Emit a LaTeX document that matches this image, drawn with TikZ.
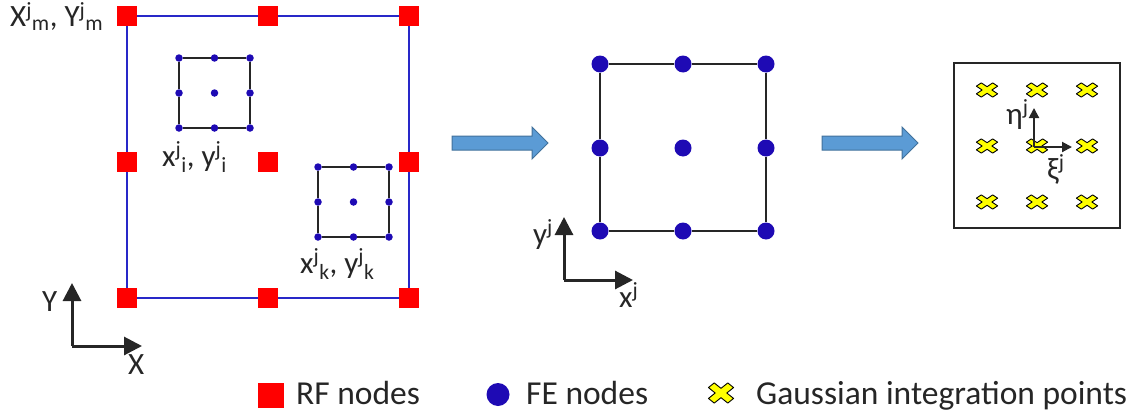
\documentclass[tikz,border=0pt]{standalone}
\usepackage{fontspec}
\setmainfont{Carlito}
\usetikzlibrary{arrows.meta,positioning}
\definecolor{rfred}{RGB}{255,0,0}
\definecolor{feblue}{RGB}{30,10,180}
\definecolor{rfline}{RGB}{40,40,200}
\definecolor{ink}{RGB}{38,38,38}
\definecolor{barfill}{RGB}{91,155,213}
\definecolor{barline}{RGB}{65,113,156}
\definecolor{gyellow}{RGB}{255,255,0}

\begin{document}
\begin{tikzpicture}[
  x=1pt, y=-1pt,
  font=\fontsize{31}{36}\selectfont, text=ink,
  rf/.style={fill=rfred, inner sep=0pt, minimum size=20pt},
  fe/.style={circle, fill=feblue, inner sep=0pt, minimum size=7.5pt},
  febig/.style={fe, minimum size=17pt},
  lbl/.style={anchor=base west, inner sep=0pt},
  leg/.style={lbl, font=\fontsize{33.5}{38}\selectfont},
  rfedge/.style={draw=rfline, line width=1.5pt},
  mesh/.style={draw=ink, line width=1.5pt},
  axis/.style={-{Triangle[length=18pt,width=18pt]}, draw=ink, line width=3pt},
  laxis/.style={-{Triangle[length=10pt,width=10pt]}, draw=ink, line width=2pt},
  bar/.style={fill=barfill, draw=barline, line width=1pt},
  gpt/.pic={\draw[fill=gyellow, draw=black, line width=0.9pt, line join=round, rotate=45]
    (2.7,2.7) -- (9,2.7) -- (9,-2.7) -- (2.7,-2.7) -- (2.7,-9) -- (-2.7,-9)
    -- (-2.7,-2.7) -- (-9,-2.7) -- (-9,2.7) -- (-2.7,2.7) -- (-2.7,9) -- (2.7,9) -- cycle;}
]
\useasboundingbox (0,0) rectangle (1140,415);

% random field grid
\foreach \x [count=\i] in {127,268,409}
  \foreach \y [count=\j] in {16,162,298}
    \node[rf] (rf\i\j) at (\x,\y) {};
\draw[rfedge] (rf11) -- (rf21) -- (rf31) -- (rf32) -- (rf33) -- (rf23) -- (rf13) -- (rf12) -- (rf11);

% two finite elements inside
\foreach \s/\ox/\oy in {i/179/58, k/318/167}{
  \foreach \a [count=\i] in {0,35.5,71}
    \foreach \b [count=\j] in {0,35,70}
      \node[fe] (\s\i\j) at (\ox+\a,\oy+\b) {};
  \draw[mesh] (\s11) -- (\s21) -- (\s31) -- (\s32) -- (\s33) -- (\s23) -- (\s13) -- (\s12) -- (\s11);
}
\node[lbl] (mlbl) at (10,27) {X\textsuperscript{j}\textsubscript{m}, Y\textsuperscript{j}\textsubscript{m}};
\node[lbl] (ilbl) at (162,166) {x\textsuperscript{j}\textsubscript{i}, y\textsuperscript{j}\textsubscript{i}};
\node[lbl] (klbl) at (300,273) {x\textsuperscript{j}\textsubscript{k}, y\textsuperscript{j}\textsubscript{k}};

% global axes
\coordinate (go) at (72,346);
\coordinate (gy) at (72,283);
\coordinate (gx) at (142,346);
\draw[axis] (go) -- (gy);
\draw[axis] (go) -- (gx);
\node[lbl] (gylbl) at (42,311) {Y};
\node[lbl] (gxlbl) at (128,374) {X};

% block arrows
\foreach \ax in {452,822}
  \draw[bar] (\ax,136) -- ++(80,0) -- ++(0,-9) -- ++(16,16) -- ++(-16,16) -- ++(0,-9) -- ++(-80,0) -- cycle;

% single element
\foreach \x [count=\i] in {600,683,766}
  \foreach \y [count=\j] in {64,148,231}
    \node[febig] (fe\i\j) at (\x,\y) {};
\draw[mesh] (fe11) -- (fe21) -- (fe31) -- (fe32) -- (fe33) -- (fe23) -- (fe13) -- (fe12) -- (fe11);
\coordinate (lo) at (564,280);
\coordinate (ly) at (564,217);
\coordinate (lx) at (633,280);
\draw[axis] (lo) -- (ly);
\draw[axis] (lo) -- (lx);
\node[lbl] (lylbl) at (533,244) {y\textsuperscript{j}};
\node[lbl] (lxlbl) at (619,307) {x\textsuperscript{j}};

% reference element with Gauss points
\node[draw=ink, line width=1.5pt, minimum width=166pt, minimum height=165pt, inner sep=0pt] (refel) at (1037,145.5) {};
\foreach \x [count=\i] in {987,1037,1087}
  \foreach \y [count=\j] in {90,146,202}
    \pic[xscale=1.28, yscale=0.86] (gp\i\j) at (\x,\y) {gpt};
\coordinate (no) at (1034,147);
\coordinate (ne) at (1034,108);
\coordinate (nx) at (1072,147);
\draw[laxis] (no) -- (ne);
\draw[laxis] (no) -- (nx);
\node[lbl] (etalbl) at (1006,124) {η\textsuperscript{j}};
\node[lbl] (xilbl) at (1047,179) {ξ\textsuperscript{j}};

% legend
\node[rf, minimum width=26pt, minimum height=25pt] (legrf) at (271,395.5) {};
\node[leg] (legrft) at (296,404) {RF nodes};
\node[fe, minimum size=23pt] (legfe) at (498,394.5) {};
\node[leg] (legfet) at (526,404) {FE nodes};
\pic[xscale=1.52, yscale=1.22] (leggp) at (721,393) {gpt};
\node[leg] (leggpt) at (756,404) {Gaussian integration points};
\end{tikzpicture}
\end{document}
